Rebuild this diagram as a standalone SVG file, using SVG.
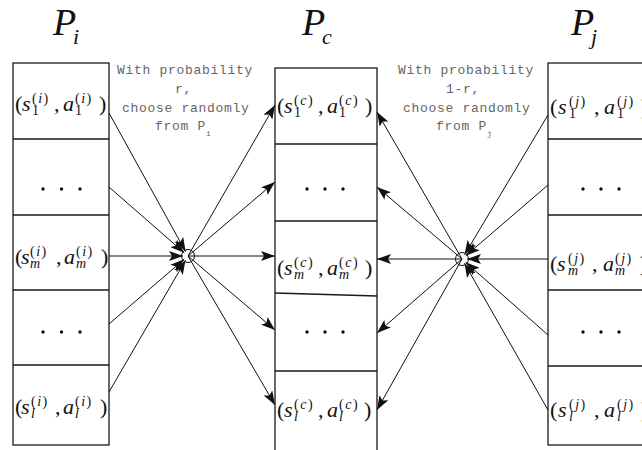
<svg xmlns="http://www.w3.org/2000/svg" width="642" height="450" viewBox="0 0 642 450">
<defs>
<style>
.box{fill:none;stroke:#1a1a1a;stroke-width:1.3}
.t{font-family:"Liberation Serif","Times New Roman",Times,serif;font-size:22px;fill:#111}
.it{font-style:italic}
.sc{font-size:14px}
.sp{letter-spacing:1.5px}
.ttl{font-family:"Liberation Serif","Times New Roman",Times,serif;font-style:italic;fill:#111}
.lbl{font-family:"Liberation Mono","Courier New",monospace;font-size:13px;letter-spacing:0.7px;fill:#666}
.dot{fill:#111}
.ln{stroke:#111;stroke-width:1;fill:none}
.arr{marker-end:url(#ah)}
.hub{fill:none;stroke:#111;stroke-width:1}
</style>
<marker id="ah" markerUnits="userSpaceOnUse" markerWidth="15" markerHeight="10" refX="14" refY="5" orient="auto">
<path d="M0,0 L14,5 L0,10 L3,5 z" fill="#111"/>
</marker>
</defs>
<rect width="642" height="450" fill="#fff"/>

<g id="title-Pi"><text class="ttl" x="53" y="35" font-size="38">P</text><text class="ttl" x="73" y="44" font-size="22">i</text></g>
<g id="title-Pc"><text class="ttl" x="302" y="35" font-size="38">P</text><text class="ttl" x="322" y="44" font-size="22">c</text></g>
<g id="title-Pj"><text class="ttl" x="571" y="35" font-size="38">P</text><text class="ttl" x="591" y="44" font-size="22">j</text></g>

<g id="col-Pi">
<rect class="box" x="13" y="63" width="96" height="382"/>
<line class="box" x1="13" y1="139" x2="109" y2="139"/>
<line class="box" x1="13" y1="215" x2="109" y2="215"/>
<line class="box" x1="13" y1="290" x2="109" y2="290"/>
<line class="box" x1="13" y1="365" x2="109" y2="365"/>
<g id="Pi-1"><text class="t" y="111"><tspan x="15">(</tspan><tspan x="22" class="it">s</tspan><tspan x="32" y="115" class="sc">1</tspan><tspan x="32" y="103" class="sc sp">(<tspan class="it">i</tspan>)</tspan><tspan x="54" y="111">,</tspan><tspan x="63" class="it">a</tspan><tspan x="75" y="115" class="sc">1</tspan><tspan x="75" y="103" class="sc sp">(<tspan class="it">i</tspan>)</tspan><tspan x="99" y="111">)</tspan></text></g>
<g id="Pi-2"><circle class="dot" cx="43" cy="189" r="1.7"/><circle class="dot" cx="61.5" cy="189" r="1.7"/><circle class="dot" cx="80" cy="189" r="1.7"/></g>
<g id="Pi-m"><text class="t" y="264"><tspan x="15">(</tspan><tspan x="21" class="it">s</tspan><tspan x="30" y="268" class="sc it">m</tspan><tspan x="30" y="256" class="sc sp">(<tspan class="it">i</tspan>)</tspan><tspan x="56" y="264">,</tspan><tspan x="64" class="it">a</tspan><tspan x="76" y="268" class="sc it">m</tspan><tspan x="76" y="256" class="sc sp">(<tspan class="it">i</tspan>)</tspan><tspan x="101" y="264">)</tspan></text></g>
<g id="Pi-4"><circle class="dot" cx="43" cy="332" r="1.7"/><circle class="dot" cx="61.5" cy="332" r="1.7"/><circle class="dot" cx="80" cy="332" r="1.7"/></g>
<g id="Pi-l"><text class="t" y="414"><tspan x="15">(</tspan><tspan x="21" class="it">s</tspan><tspan x="31" y="418" class="sc it">l</tspan><tspan x="31" y="406" class="sc sp">(<tspan class="it">i</tspan>)</tspan><tspan x="55" y="414">,</tspan><tspan x="63" class="it">a</tspan><tspan x="75" y="418" class="sc it">l</tspan><tspan x="75" y="406" class="sc sp">(<tspan class="it">i</tspan>)</tspan><tspan x="100" y="414">)</tspan></text></g>
</g>

<g id="col-Pc">
<rect class="box" x="275" y="68" width="102" height="400"/>
<line class="box" x1="275" y1="144" x2="377" y2="144"/>
<line class="box" x1="275" y1="221" x2="377" y2="221"/>
<line class="box" x1="275" y1="293" x2="377" y2="296"/>
<line class="box" x1="275" y1="371" x2="377" y2="371"/>
<g id="Pc-1"><text class="t" y="113"><tspan x="277">(</tspan><tspan x="284" class="it">s</tspan><tspan x="294" y="117" class="sc">1</tspan><tspan x="294" y="105" class="sc sp">(<tspan class="it">c</tspan>)</tspan><tspan x="318" y="113">,</tspan><tspan x="327" class="it">a</tspan><tspan x="339" y="117" class="sc">1</tspan><tspan x="339" y="105" class="sc sp">(<tspan class="it">c</tspan>)</tspan><tspan x="365" y="113">)</tspan></text></g>
<g id="Pc-2"><circle class="dot" cx="307" cy="189" r="1.7"/><circle class="dot" cx="325" cy="189" r="1.7"/><circle class="dot" cx="343" cy="189" r="1.7"/></g>
<g id="Pc-m"><text class="t" y="275"><tspan x="277">(</tspan><tspan x="284" class="it">s</tspan><tspan x="294" y="279" class="sc it">m</tspan><tspan x="294" y="267" class="sc sp">(<tspan class="it">c</tspan>)</tspan><tspan x="318" y="275">,</tspan><tspan x="327" class="it">a</tspan><tspan x="339" y="279" class="sc it">m</tspan><tspan x="339" y="267" class="sc sp">(<tspan class="it">c</tspan>)</tspan><tspan x="365" y="275">)</tspan></text></g>
<g id="Pc-4"><circle class="dot" cx="307" cy="332" r="1.7"/><circle class="dot" cx="325" cy="332" r="1.7"/><circle class="dot" cx="343" cy="332" r="1.7"/></g>
<g id="Pc-l"><text class="t" y="417"><tspan x="277">(</tspan><tspan x="284" class="it">s</tspan><tspan x="294" y="421" class="sc it">l</tspan><tspan x="294" y="409" class="sc sp">(<tspan class="it">c</tspan>)</tspan><tspan x="318" y="417">,</tspan><tspan x="327" class="it">a</tspan><tspan x="339" y="421" class="sc it">l</tspan><tspan x="339" y="409" class="sc sp">(<tspan class="it">c</tspan>)</tspan><tspan x="364" y="417">)</tspan></text></g>
</g>

<g id="col-Pj">
<rect class="box" x="548" y="63" width="150" height="382"/>
<line class="box" x1="548" y1="139" x2="698" y2="139"/>
<line class="box" x1="548" y1="215" x2="698" y2="215"/>
<line class="box" x1="548" y1="290" x2="698" y2="290"/>
<line class="box" x1="548" y1="366" x2="698" y2="366"/>
<g id="Pj-1"><text class="t" y="114"><tspan x="550">(</tspan><tspan x="558" class="it">s</tspan><tspan x="569" y="118" class="sc">1</tspan><tspan x="569" y="106" class="sc sp">(<tspan class="it">j</tspan>)</tspan><tspan x="594" y="114">,</tspan><tspan x="604" class="it">a</tspan><tspan x="617" y="118" class="sc">1</tspan><tspan x="617" y="106" class="sc sp">(<tspan class="it">j</tspan>)</tspan><tspan x="641" y="114">)</tspan></text></g>
<g id="Pj-2"><circle class="dot" cx="583" cy="189" r="1.7"/><circle class="dot" cx="601" cy="189" r="1.7"/><circle class="dot" cx="619" cy="189" r="1.7"/></g>
<g id="Pj-m"><text class="t" y="271"><tspan x="550">(</tspan><tspan x="557" class="it">s</tspan><tspan x="568" y="275" class="sc it">m</tspan><tspan x="568" y="263" class="sc sp">(<tspan class="it">j</tspan>)</tspan><tspan x="592" y="271">,</tspan><tspan x="603" class="it">a</tspan><tspan x="615" y="275" class="sc it">m</tspan><tspan x="615" y="263" class="sc sp">(<tspan class="it">j</tspan>)</tspan><tspan x="640" y="271">)</tspan></text></g>
<g id="Pj-4"><circle class="dot" cx="583" cy="332" r="1.7"/><circle class="dot" cx="601" cy="332" r="1.7"/><circle class="dot" cx="619" cy="332" r="1.7"/></g>
<g id="Pj-l"><text class="t" y="417"><tspan x="550">(</tspan><tspan x="558" class="it">s</tspan><tspan x="569" y="421" class="sc it">l</tspan><tspan x="569" y="409" class="sc sp">(<tspan class="it">j</tspan>)</tspan><tspan x="594" y="417">,</tspan><tspan x="604" class="it">a</tspan><tspan x="617" y="421" class="sc it">l</tspan><tspan x="617" y="409" class="sc sp">(<tspan class="it">j</tspan>)</tspan><tspan x="641" y="417">)</tspan></text></g>
</g>

<g id="label-left">
<text class="lbl" x="117" y="74">With probability</text>
<text class="lbl" x="175" y="93">r,</text>
<text class="lbl" x="122" y="112">choose randomly</text>
<text class="lbl" x="155" y="130">from P<tspan font-size="8" dy="6" letter-spacing="0">i</tspan></text>
</g>
<g id="label-right">
<text class="lbl" x="398" y="74">With probability</text>
<text class="lbl" x="446" y="93">1-r,</text>
<text class="lbl" x="403" y="112">choose randomly</text>
<text class="lbl" x="436" y="130">from P<tspan font-size="8" dy="6" letter-spacing="0">j</tspan></text>
</g>

<g id="hub-left"><circle class="hub" cx="188" cy="256" r="6.5"/></g>
<g id="hub-right"><circle class="hub" cx="462" cy="259" r="6.5"/></g>

<g id="connectors">
<line class="ln arr" x1="109" y1="113" x2="185.6" y2="251.6"/>
<line class="ln arr" x1="109" y1="187" x2="184.2" y2="252.7"/>
<line class="ln arr" x1="109" y1="256" x2="183" y2="256"/>
<line class="ln arr" x1="109" y1="324" x2="184.2" y2="259.3"/>
<line class="ln arr" x1="109" y1="392" x2="185.5" y2="260.3"/>
<line class="ln arr" x1="188" y1="256" x2="275" y2="105"/>
<line class="ln arr" x1="188" y1="256" x2="275" y2="182"/>
<line class="ln arr" x1="188" y1="256" x2="275" y2="256"/>
<line class="ln arr" x1="188" y1="256" x2="275" y2="330"/>
<line class="ln arr" x1="188" y1="256" x2="275" y2="405"/>
<line class="ln arr" x1="548" y1="115" x2="464.6" y2="254.7"/>
<line class="ln arr" x1="548" y1="185" x2="465.8" y2="255.7"/>
<line class="ln arr" x1="548" y1="259" x2="467" y2="259"/>
<line class="ln arr" x1="548" y1="335" x2="465.7" y2="262.3"/>
<line class="ln arr" x1="548" y1="410" x2="464.5" y2="263.3"/>
<line class="ln arr" x1="462" y1="259" x2="377" y2="112"/>
<line class="ln arr" x1="462" y1="259" x2="377" y2="187"/>
<line class="ln arr" x1="462" y1="259" x2="377" y2="259"/>
<line class="ln arr" x1="462" y1="259" x2="377" y2="333"/>
<line class="ln arr" x1="462" y1="259" x2="377" y2="410"/>
</g>
</svg>
